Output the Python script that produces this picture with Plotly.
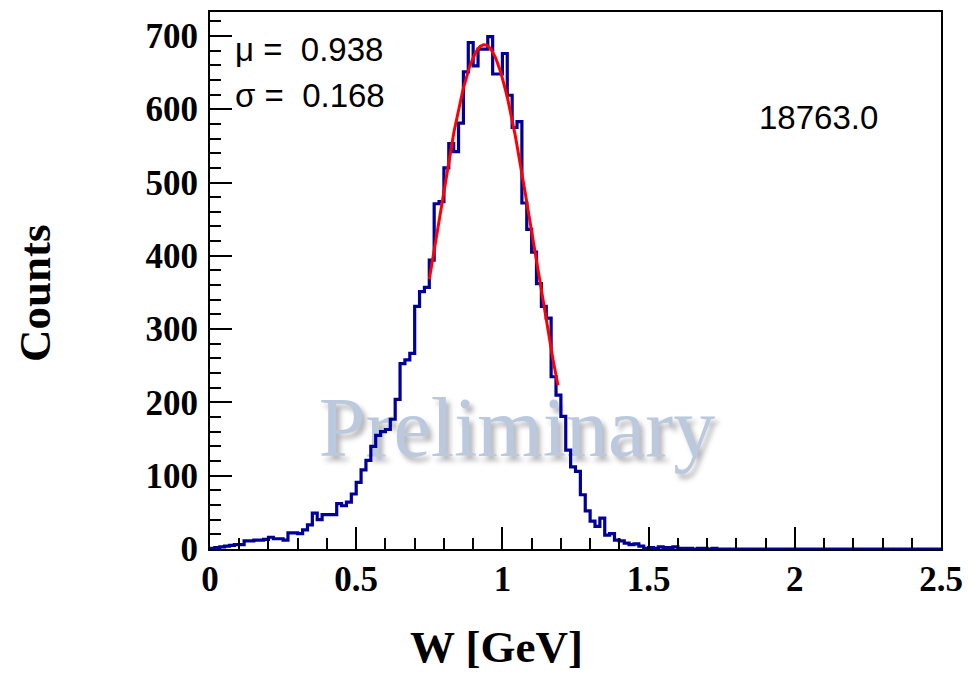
import numpy as np
import plotly.graph_objects as go

# ---- data ----
x_min, x_max, n_bins = 0.0, 2.5, 150
counts = [
    1, 2, 3, 4, 5, 6, 6,
    11, 11, 12, 12, 13, 16, 14, 14, 12,
    22, 22, 21, 26, 33,
    49, 40, 47, 47, 47, 62, 59, 64, 75, 91, 108,
    121, 140, 155, 160, 163, 177,
    204, 253, 258, 267, 331, 351, 357, 394,
    471, 474, 520, 553, 542, 581, 651, 691,
    659, 682, 682, 699, 648, 648, 676, 619,
    575, 583, 472, 436, 405, 362, 331, 315, 235,
    210, 181, 135, 112, 106, 74, 52, 38, 31, 42,
    19, 21, 12, 11, 8, 6, 7, 4, 1, 2, 1, 3, 2, 2, 3, 1, 1,
    1, 0, 1, 1, 0, 1,
]
counts = counts + [0] * (n_bins - len(counts))

fit_mu = 0.938
fit_sigma = 0.168
fit_amp = 688.0
fit_range = (0.75, 1.19)
entries_label = "18763.0"

y_ticks = [0, 100, 200, 300, 400, 500, 600, 700]
x_ticks = [0, 0.5, 1, 1.5, 2, 2.5]
x_title = "W [GeV]"
y_title = "Counts"

# ---- build ----
edges = np.linspace(x_min, x_max, n_bins + 1)
step_x = list(edges)
step_y = list(counts) + [counts[-1]]

fx = np.linspace(fit_range[0], fit_range[1], 200)
fy = fit_amp * np.exp(-0.5 * ((fx - fit_mu) / fit_sigma) ** 2)

fig = go.Figure()

# watermark (below data)
fig.add_trace(go.Scatter(
    x=[1.05], y=[156], mode="text", text=["Preliminary"],
    textposition="middle center", hoverinfo="skip", showlegend=False,
    textfont=dict(family="Liberation Serif", size=84, color="#bac9de",
                  shadow="4px 5px 5px rgba(90,90,100,0.45)"),
))

fig.add_trace(go.Scatter(
    x=step_x, y=step_y, mode="lines", line=dict(color="#000099", width=3.2, shape="hv"),
    showlegend=False, hoverinfo="skip",
))
fig.add_trace(go.Scatter(
    x=fx, y=fy, mode="lines", line=dict(color="#ff0000", width=3),
    showlegend=False, hoverinfo="skip",
))

axis_font = dict(family="Liberation Serif", size=35, color="black", weight="bold")
title_font = dict(family="Liberation Serif", size=45, color="black", weight="bold")

fig.update_xaxes(
    range=[x_min, x_max], tickvals=x_ticks, ticktext=[f"{v:g}" for v in x_ticks],
    ticks="inside", ticklen=22, tickwidth=1.5, tickcolor="black",
    minor=dict(dtick=0.1, ticks="inside", ticklen=11, tickwidth=1.5, tickcolor="black"),
    showline=True, linecolor="black", linewidth=2, mirror=True,
    showgrid=False, zeroline=False, tickfont=axis_font, ticklabelstandoff=-2,
    automargin=False,
)
fig.update_yaxes(
    range=[0, 732.6], tickvals=y_ticks,
    ticks="inside", ticklen=22, tickwidth=1.5, tickcolor="black",
    minor=dict(dtick=20, ticks="inside", ticklen=11, tickwidth=1.5, tickcolor="black"),
    showline=True, linecolor="black", linewidth=2, mirror=True,
    showgrid=False, zeroline=False, tickfont=axis_font, ticklabelstandoff=3,
    automargin=False,
)

fig.add_annotation(xref="paper", yref="paper", x=0.3926, y=-0.183, xanchor="center", yanchor="middle",
                   text=x_title, showarrow=False, font=title_font)
fig.add_annotation(xref="paper", yref="paper", x=-0.2394, y=0.4767, xanchor="center", yanchor="middle",
                   text=y_title, textangle=-90, showarrow=False, font=title_font)

txt_font = dict(family="Liberation Sans", size=33, color="black")
fig.add_annotation(xref="paper", yref="paper", x=0.031, y=0.931, xanchor="left", yanchor="middle",
                   text=f"\u03bc =\u00a0 {fit_mu:.3f}", showarrow=False, font=txt_font)
fig.add_annotation(xref="paper", yref="paper", x=0.031, y=0.845, xanchor="left", yanchor="middle",
                   text=f"\u03c3 =\u00a0 {fit_sigma:.3f}", showarrow=False, font=txt_font)
fig.add_annotation(xref="paper", yref="paper", x=0.833, y=0.803, xanchor="center", yanchor="middle",
                   text=entries_label, showarrow=False, font=txt_font)

fig.update_layout(
    width=969, height=674,
    margin=dict(l=210, r=28, t=12, b=125),
    paper_bgcolor="white", plot_bgcolor="white",
)

fig.write_html("out.html")
